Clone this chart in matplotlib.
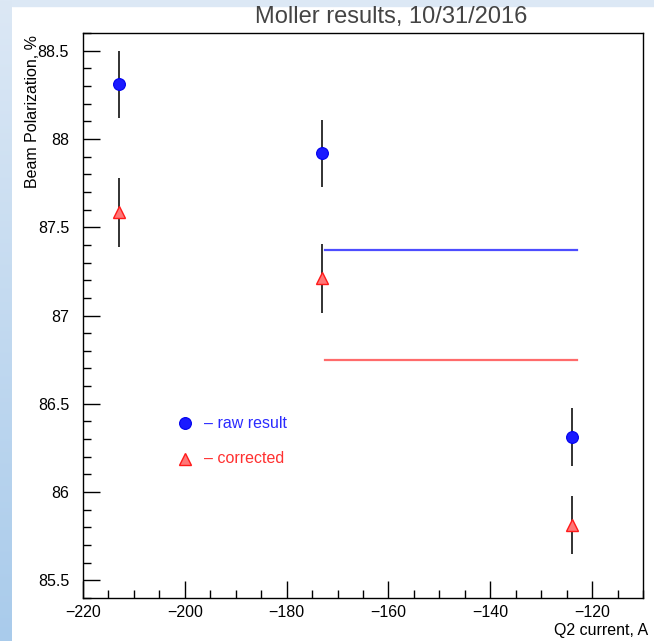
import matplotlib.pyplot as plt
import numpy as np
from matplotlib.patches import Rectangle
from matplotlib.ticker import MultipleLocator

plt.rcParams['font.family'] = ['Liberation Sans', 'DejaVu Sans']

# Moller polarimeter runs vs Q2 current
q2_current = [-213.0, -173.0, -124.0]
pol_raw = [88.31, 87.92, 86.31]
pol_raw_err = [0.19, 0.19, 0.165]
pol_corr = [87.585, 87.21, 85.815]
pol_corr_err = [0.195, 0.195, 0.165]

# average levels over the last two settings
avg_range = [-172.5, -123.0]
avg_raw = 87.37
avg_corr = 86.75

W, H = 654, 641
fig = plt.figure(figsize=(W / 100, H / 100), dpi=100)

# light blue frame on the left and top edges
grad = fig.add_axes([0, 0, 12 / W, 1])
grad.imshow(np.linspace(0, 1, 256).reshape(-1, 1), aspect='auto',
            cmap=plt.matplotlib.colors.LinearSegmentedColormap.from_list(
                'edge', ['#dce8f5', '#a9cbeb']),
            extent=[0, 1, 0, 1])
grad.axis('off')
fig.patches.append(Rectangle((12 / W, 1 - 6 / H), 1, 6 / H,
                             transform=fig.transFigure, color='#dce8f5',
                             zorder=0))

ax = fig.add_axes([83 / W, 1 - 598 / H, 560 / W, 565 / H])

ax.errorbar(q2_current, pol_raw, yerr=pol_raw_err, fmt='none',
            ecolor='#222222', elinewidth=1.3, zorder=2)
ax.errorbar(q2_current, pol_corr, yerr=pol_corr_err, fmt='none',
            ecolor='#222222', elinewidth=1.3, zorder=2)
ax.plot(q2_current, pol_raw, 'o', ms=8.5, mfc='#1a1aff', mec='#0000ee',
        mew=0.8, zorder=3)
ax.plot(q2_current, pol_corr, '^', ms=9, mfc='#ff7777', mec='#ff1a1a',
        mew=1.0, zorder=3)

ax.plot(avg_range, [avg_raw, avg_raw], color='#4d4dff', lw=1.6, zorder=1)
ax.plot(avg_range, [avg_corr, avg_corr], color='#ff6b6b', lw=1.6, zorder=1)

# legend drawn by hand inside the frame
ax.plot([-200], [86.39], 'o', ms=8.5, mfc='#1a1aff', mec='#0000ee', mew=0.8)
ax.plot([-200], [86.19], '^', ms=9, mfc='#ff7777', mec='#ff1a1a', mew=1.0)
ax.text(-196.2, 86.39, '\u2013 raw result', color='#2b2bff', fontsize=11.5,
        va='center', ha='left')
ax.text(-196.2, 86.19, '\u2013 corrected', color='#ff3030', fontsize=11.5,
        va='center', ha='left')

ax.set_xlim(-220, -110)
ax.set_ylim(85.4, 88.6)
ax.xaxis.set_major_locator(MultipleLocator(20))
ax.xaxis.set_minor_locator(MultipleLocator(5))
ax.yaxis.set_major_locator(MultipleLocator(0.5))
ax.yaxis.set_minor_locator(MultipleLocator(0.1))
ax.yaxis.set_major_formatter(plt.FuncFormatter(lambda v, p: f'{v:g}'))
ax.xaxis.set_major_formatter(plt.FuncFormatter(lambda v, p: f'\u2212{-v:g}'))
ax.tick_params(which='both', direction='in', top=False, right=False,
               labelsize=11.5, colors='black', width=1)
ax.tick_params(which='major', length=12)
ax.tick_params(which='minor', length=6)
ax.tick_params(axis='y', which='major', pad=10)
ax.tick_params(axis='x', which='major', pad=5)
for s in ax.spines.values():
    s.set_linewidth(1.0)

fig.text(391 / W, 1 - 17 / H, 'Moller results, 10/31/2016', ha='center',
         va='center', fontsize=17, color='#444444')
fig.text(33 / W, 1 - 35 / H, 'Beam Polarization, %', rotation=90,
         ha='center', va='top', fontsize=11.5)
fig.text(648 / W, 1 - 630 / H, 'Q2 current, A', ha='right', va='center',
         fontsize=11.5)

fig.savefig('out.png', dpi=100)
